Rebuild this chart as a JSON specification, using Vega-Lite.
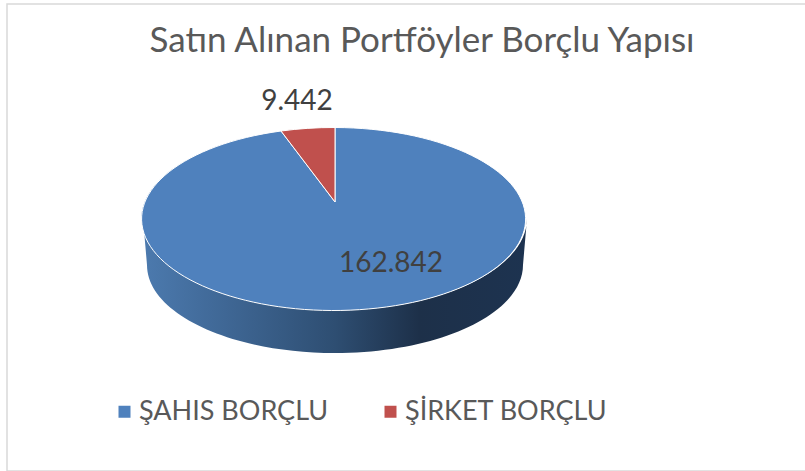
{
"$schema":"https://vega.github.io/schema/vega-lite/v6.json",
"autosize":{"type":"none"},
"padding":{"left":7,"top":4,"right":0,"bottom":0},
"width":800,"height":467,
"background":"white",
"view":{"stroke":"#d9d9d9","strokeWidth":1.5},
"title":{"text":"Satın Alınan Portföyler Borçlu Yapısı","font":"Lato","fontSize":35,"fontWeight":"normal","color":"#595959","anchor":"middle","orient":"top","frame":"group","offset":-55,"dx":15},
"data":{"values":[
{"segment":"ŞAHIS BORÇLU","value":162842,"label":"162.842"},
{"segment":"ŞİRKET BORÇLU","value":9442,"label":"9.442"}
]},
"config":{"font":"Lato"},
"resolve":{"scale":{"x":"independent","y":"independent"}},
"layer":[
{"transform":[{"filter":"datum.value > 100000"}],
 "mark":{"type":"point","filled":true,"opacity":1,"size":4,"strokeWidth":0,
  "shape":"M-192,16.5 A192,91.5 0 0,0 192,16.5 L188,63 A188,88 0 0,1 -188,63 Z",
  "fill":{"gradient":"linear","x1":0,"y1":0,"x2":1,"y2":0,"stops":[{"offset":0,"color":"#4c7aae"},{"offset":0.18,"color":"#416a99"},{"offset":0.5,"color":"#2e4e72"},{"offset":0.72,"color":"#1d3049"},{"offset":1,"color":"#1d3350"}]}},
 "encoding":{
  "x":{"field":"segment","type":"nominal","axis":null,"scale":{"type":"point","padding":0,"range":[328,328]}},
  "y":{"field":"segment","type":"nominal","axis":null,"scale":{"type":"point","padding":0,"range":[198,198]}}
 }},
{"mark":{"type":"point","filled":true,"opacity":1,"size":4,"stroke":"#ffffff","strokeWidth":1},
 "encoding":{
  "x":{"field":"segment","type":"nominal","axis":null,"scale":{"type":"point","padding":0,"range":[328,328]}},
  "y":{"field":"segment","type":"nominal","axis":null,"scale":{"type":"point","padding":0,"range":[198,198]}},
  "color":{"field":"segment","type":"nominal","scale":{"domain":["ŞAHIS BORÇLU","ŞİRKET BORÇLU"],"range":["#4f81bd","#c0504d"]},
   "legend":{"title":null,"orient":"none","legendX":104,"legendY":394,"direction":"horizontal","columns":2,"symbolType":"square","symbolSize":144,"symbolStrokeWidth":0,"symbolOpacity":1,"labelFont":"Lato","labelFontSize":27,"labelColor":"#595959","labelLimit":400,"labelOffset":1,"columnPadding":48,"padding":0}},
  "shape":{"field":"label","type":"nominal","legend":null,"scale":{"domain":["162.842","9.442"],"range":["M0,0 L-54,-71 A192,91.5 0 1,0 0,-74.5 Z","M0,0 L0,-74.5 A192,91.5 0 0,0 -54,-71 Z"]}}
 }},
{"mark":{"type":"text","font":"Lato","fontSize":28,"color":"#404040","align":"center","baseline":"middle"},
 "encoding":{
  "x":{"field":"segment","type":"nominal","axis":null,"scale":{"type":"point","padding":0,"range":[384,290]}},
  "y":{"field":"segment","type":"nominal","axis":null,"scale":{"type":"point","padding":0,"range":[260,98]}},
  "text":{"field":"label","type":"nominal"}
 }}
]
}
